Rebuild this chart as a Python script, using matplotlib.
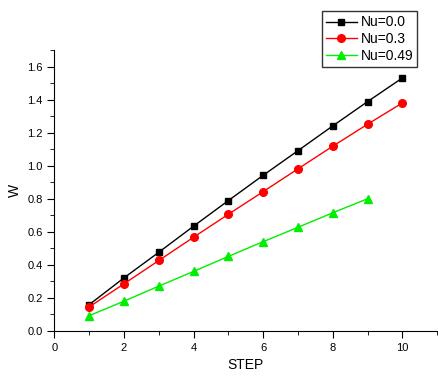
import numpy as np
import matplotlib.pyplot as plt
from matplotlib.ticker import MultipleLocator

plt.rcParams['font.family'] = ['Liberation Sans', 'DejaVu Sans']

# data
step = [1, 2, 3, 4, 5, 6, 7, 8, 9, 10]
w_nu00 = [0.159, 0.321, 0.476, 0.634, 0.789, 0.942, 1.091, 1.241, 1.388, 1.531]
w_nu03 = [0.145, 0.285, 0.426, 0.567, 0.706, 0.843, 0.981, 1.118, 1.251, 1.380]
step_049 = [1, 2, 3, 4, 5, 6, 7, 8, 9]
w_nu049 = [0.092, 0.180, 0.271, 0.360, 0.451, 0.540, 0.627, 0.715, 0.800]

fig = plt.figure(figsize=(4.39, 3.76), dpi=100)
ax = fig.add_axes([0.124, 0.12, 0.872, 0.747])

ax.plot(step, w_nu00, color='black', marker='s', markersize=5, lw=1, label='Nu=0.0')
ax.plot(step, w_nu03, color='red', marker='o', markersize=5.5, lw=1, label='Nu=0.3')
ax.plot(step_049, w_nu049, color='#00ee00', marker='^', markersize=6, lw=1, label='Nu=0.49')

ax.set_xlim(0, 11)
ax.set_ylim(0, 1.7)
ax.xaxis.set_major_locator(MultipleLocator(2))
ax.xaxis.set_minor_locator(MultipleLocator(1))
ax.yaxis.set_major_locator(MultipleLocator(0.2))
ax.yaxis.set_minor_locator(MultipleLocator(0.1))
ax.yaxis.set_major_formatter(plt.FuncFormatter(lambda v, p: f'{v:.1f}'))

for s in ['top', 'right']:
    ax.spines[s].set_visible(False)
ax.tick_params(which='major', direction='out', length=5, labelsize=8)
ax.tick_params(which='minor', direction='out', length=3)

ax.set_xlabel('STEP', fontsize=10)
ax.set_ylabel('W', fontsize=10)

leg = fig.legend(loc='upper left', bbox_to_anchor=(0.733, 0.97), fontsize=10,
                 frameon=True, fancybox=False, borderpad=0.3, labelspacing=0.2,
                 handlelength=2.2, handletextpad=0.3, borderaxespad=0)
leg.get_frame().set_edgecolor('black')
leg.get_frame().set_linewidth(1)

fig.savefig('out.png', dpi=100)
